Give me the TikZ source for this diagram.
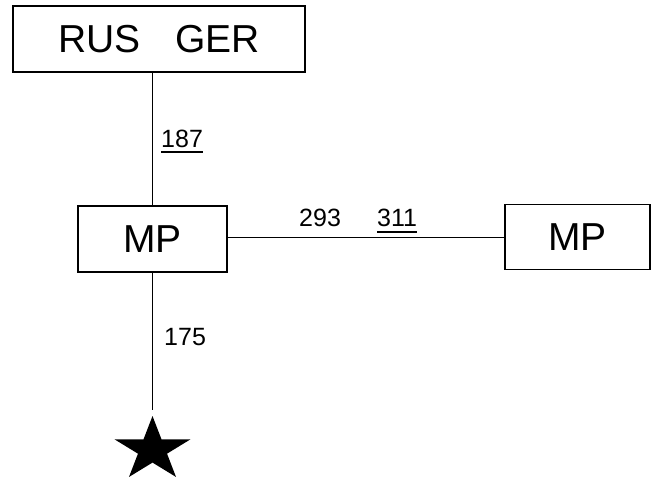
\documentclass[tikz,border=0pt]{standalone}
\usepackage{fontspec}
\setmainfont{Liberation Sans}
\begin{document}
\begin{tikzpicture}[x=1pt,y=-1pt,
  box/.style={draw=black, line width=1.1pt, inner sep=0pt, fill=white},
  big/.style={font=\fontsize{39}{39}\selectfont},
  num/.style={inner sep=0pt, font=\fontsize{25}{25}\selectfont},
  link/.style={draw=black, line width=1pt},
  uline/.style={draw=black, line width=1.1pt}]
\useasboundingbox (0,0) rectangle (652,487);
% boxes
\node[box, big, minimum width=292pt, minimum height=66pt] (top) at (159,39) {RUS\hspace{0.9em}GER};
\node[box, big, minimum width=149pt, minimum height=66pt] (mpL) at (152.5,239) {MP};
\node[box, big, minimum width=145pt, minimum height=65pt] (mpR) at (577.5,237) {MP};
% connectors
\draw[link] (mpL.north) -- (mpL.north |- top.south);
\draw[link] (mpL.east |- mpR.west) -- (mpR.west);
\coordinate (starTop) at (152.5,410);
\draw[link] (mpL.south) -- (starTop);
% labels
\node[num, anchor=south west] (n187) at (161,148) {187};
\draw[uline] ([yshift=-4pt]n187.south west) -- ([yshift=-4pt]n187.south east);
\node[num, anchor=south west] (n293) at (299,227) {293};
\node[num, anchor=south west] (n311) at (377,227) {311};
\draw[uline] ([yshift=-5pt]n311.south west) -- ([yshift=-5pt]n311.south east);
\node[num, anchor=south west] (n175) at (164,346) {175};
% star
\coordinate (starC) at (152.5,449.7);
\begin{scope}[shift={(starC)}, xscale=40, yscale=-33.7]
\fill[black] (90:1) -- (126:0.382) -- (162:1) -- (198:0.382) -- (234:1) -- (270:0.382)
  -- (306:1) -- (342:0.382) -- (18:1) -- (54:0.382) -- cycle;
\end{scope}
\end{tikzpicture}
\end{document}
